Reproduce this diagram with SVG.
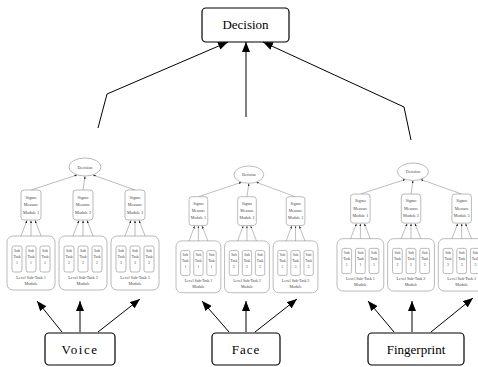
<svg xmlns="http://www.w3.org/2000/svg" width="478" height="367" viewBox="0 0 478 367">
<style>
text{font-family:"Liberation Serif","Times New Roman",serif;text-anchor:middle;fill:#000}
.main rect{fill:#fff;stroke:#000;stroke-width:1.2}
.main text{font-size:13px}
.conn line,.conn polyline{stroke:#000;stroke-width:1;fill:none;marker-end:url(#big)}
.sub rect,.sub ellipse{fill:#fff;stroke:#8a8a8a;stroke-width:0.6}
.sub text{font-size:4.2px;fill:#444}
.sub .t{font-size:3.8px}
.sc line{stroke:#777;stroke-width:0.5;marker-end:url(#small)}
</style>
<defs>
<marker id="big" viewBox="0 0 10 8" refX="10" refY="4" markerWidth="10" markerHeight="8" markerUnits="userSpaceOnUse" orient="auto"><path d="M0,0L10,4L0,8z" fill="#000"/></marker>
<marker id="small" viewBox="0 0 10 8" refX="10" refY="4" markerWidth="2.6" markerHeight="2.2" markerUnits="userSpaceOnUse" orient="auto"><path d="M0,0L10,4L0,8z" fill="#222"/></marker>
</defs>
<rect width="478" height="367" fill="#fff"/>

<g class="main">
<g id="decision"><rect x="202" y="8" width="87" height="34" rx="4"/><text x="245.5" y="29">Decision</text></g>
<g id="voice"><rect x="45" y="333" width="70" height="32" rx="4"/><text x="80" y="353.5" letter-spacing="1.5">Voice</text></g>
<g id="face"><rect x="212" y="333" width="68" height="32" rx="4"/><text x="246" y="353.5" letter-spacing="1">Face</text></g>
<g id="fingerprint"><rect x="368" y="333" width="96" height="32" rx="4"/><text x="416" y="353.5">Fingerprint</text></g>
</g>

<g id="connectors" class="conn">
<polyline points="98,128 107,94 228,42"/>
<line x1="246" y1="117" x2="246" y2="42"/>
<polyline points="411,140 404,107 263,42"/>
<line x1="62" y1="332" x2="37" y2="301"/>
<line x1="80" y1="332" x2="80" y2="301"/>
<line x1="98" y1="332" x2="140" y2="299"/>
<line x1="229" y1="332" x2="202" y2="301"/>
<line x1="246" y1="332" x2="246" y2="301"/>
<line x1="255" y1="332" x2="297" y2="299"/>
<line x1="394" y1="332" x2="368" y2="301"/>
<line x1="412" y1="332" x2="412" y2="301"/>
<line x1="431" y1="332" x2="473" y2="298"/>
</g>

<!-- Voice sub-diagram -->
<g id="voice-system" class="sub" transform="translate(7,158)">
<g class="sc">
<line x1="24" y1="32" x2="70" y2="17"/><line x1="76" y1="32" x2="78" y2="18.2"/><line x1="128" y1="32" x2="86" y2="17"/>
<line x1="10" y1="88" x2="20" y2="62.5"/><line x1="24" y1="88" x2="24" y2="62.5"/><line x1="38" y1="88" x2="28" y2="62.5"/>
<line x1="62" y1="88" x2="72" y2="62.5"/><line x1="76" y1="88" x2="76" y2="62.5"/><line x1="90" y1="88" x2="80" y2="62.5"/>
<line x1="114" y1="88" x2="124" y2="62.5"/><line x1="128" y1="88" x2="128" y2="62.5"/><line x1="142" y1="88" x2="132" y2="62.5"/>
</g>
<g id="voice-dec"><ellipse cx="78" cy="9" rx="16" ry="9"/><text x="78" y="10.5">Decision</text></g>
<g id="voice-sig1"><rect x="14" y="32" width="20" height="30" rx="3"/><text x="24" y="40.5">Sigmo</text><text x="24" y="48">Measure</text><text x="24" y="55.5">Module 1</text></g>
<g id="voice-sig2"><rect x="66" y="32" width="20" height="30" rx="3"/><text x="76" y="40.5">Sigmo</text><text x="76" y="48">Measure</text><text x="76" y="55.5">Module 2</text></g>
<g id="voice-sig3"><rect x="118" y="32" width="20" height="30" rx="3"/><text x="128" y="40.5">Sigmo</text><text x="128" y="48">Measure</text><text x="128" y="55.5">Module 3</text></g>
<g id="voice-mod1"><rect x="0" y="78" width="48" height="54" rx="6"/><text x="24" y="120.5">Level Sub-Task 1</text><text x="24" y="127">Module</text></g>
<g id="voice-mod2"><rect x="52" y="78" width="48" height="54" rx="6"/><text x="76" y="120.5">Level Sub-Task 2</text><text x="76" y="127">Module</text></g>
<g id="voice-mod3"><rect x="104" y="78" width="48" height="54" rx="6"/><text x="128" y="120.5">Level Sub-Task 3</text><text x="128" y="127">Module</text></g>
<g id="voice-st11"><rect x="5" y="88" width="10" height="26" rx="2"/><text class="t" x="10" y="94">Sub</text><text class="t" x="10" y="100">Task</text><text class="t" x="10" y="106">1</text></g>
<g id="voice-st12"><rect x="19" y="88" width="10" height="26" rx="2"/><text class="t" x="24" y="94">Sub</text><text class="t" x="24" y="100">Task</text><text class="t" x="24" y="106">1</text></g>
<g id="voice-st13"><rect x="33" y="88" width="10" height="26" rx="2"/><text class="t" x="38" y="94">Sub</text><text class="t" x="38" y="100">Task</text><text class="t" x="38" y="106">1</text></g>
<g id="voice-st21"><rect x="57" y="88" width="10" height="26" rx="2"/><text class="t" x="62" y="94">Sub</text><text class="t" x="62" y="100">Task</text><text class="t" x="62" y="106">2</text></g>
<g id="voice-st22"><rect x="71" y="88" width="10" height="26" rx="2"/><text class="t" x="76" y="94">Sub</text><text class="t" x="76" y="100">Task</text><text class="t" x="76" y="106">2</text></g>
<g id="voice-st23"><rect x="85" y="88" width="10" height="26" rx="2"/><text class="t" x="90" y="94">Sub</text><text class="t" x="90" y="100">Task</text><text class="t" x="90" y="106">2</text></g>
<g id="voice-st31"><rect x="109" y="88" width="10" height="26" rx="2"/><text class="t" x="114" y="94">Sub</text><text class="t" x="114" y="100">Task</text><text class="t" x="114" y="106">3</text></g>
<g id="voice-st32"><rect x="123" y="88" width="10" height="26" rx="2"/><text class="t" x="128" y="94">Sub</text><text class="t" x="128" y="100">Task</text><text class="t" x="128" y="106">3</text></g>
<g id="voice-st33"><rect x="137" y="88" width="10" height="26" rx="2"/><text class="t" x="142" y="94">Sub</text><text class="t" x="142" y="100">Task</text><text class="t" x="142" y="106">3</text></g>
</g>

<!-- Face sub-diagram -->
<g id="face-system" class="sub" transform="translate(176,166) scale(0.934,0.96)">
<g class="sc">
<line x1="24" y1="32" x2="70" y2="17"/><line x1="76" y1="32" x2="78" y2="18.2"/><line x1="128" y1="32" x2="86" y2="17"/>
<line x1="10" y1="88" x2="20" y2="62.5"/><line x1="24" y1="88" x2="24" y2="62.5"/><line x1="38" y1="88" x2="28" y2="62.5"/>
<line x1="62" y1="88" x2="72" y2="62.5"/><line x1="76" y1="88" x2="76" y2="62.5"/><line x1="90" y1="88" x2="80" y2="62.5"/>
<line x1="114" y1="88" x2="124" y2="62.5"/><line x1="128" y1="88" x2="128" y2="62.5"/><line x1="142" y1="88" x2="132" y2="62.5"/>
</g>
<g id="face-dec"><ellipse cx="78" cy="9" rx="16" ry="9"/><text x="78" y="10.5">Decision</text></g>
<g id="face-sig1"><rect x="14" y="32" width="20" height="30" rx="3"/><text x="24" y="40.5">Sigmo</text><text x="24" y="48">Measure</text><text x="24" y="55.5">Module 1</text></g>
<g id="face-sig2"><rect x="66" y="32" width="20" height="30" rx="3"/><text x="76" y="40.5">Sigmo</text><text x="76" y="48">Measure</text><text x="76" y="55.5">Module 2</text></g>
<g id="face-sig3"><rect x="118" y="32" width="20" height="30" rx="3"/><text x="128" y="40.5">Sigmo</text><text x="128" y="48">Measure</text><text x="128" y="55.5">Module 3</text></g>
<g id="face-mod1"><rect x="0" y="78" width="48" height="54" rx="6"/><text x="24" y="120.5">Level Sub-Task 1</text><text x="24" y="127">Module</text></g>
<g id="face-mod2"><rect x="52" y="78" width="48" height="54" rx="6"/><text x="76" y="120.5">Level Sub-Task 2</text><text x="76" y="127">Module</text></g>
<g id="face-mod3"><rect x="104" y="78" width="48" height="54" rx="6"/><text x="128" y="120.5">Level Sub-Task 3</text><text x="128" y="127">Module</text></g>
<g id="face-st11"><rect x="5" y="88" width="10" height="26" rx="2"/><text class="t" x="10" y="94">Sub</text><text class="t" x="10" y="100">Task</text><text class="t" x="10" y="106">1</text></g>
<g id="face-st12"><rect x="19" y="88" width="10" height="26" rx="2"/><text class="t" x="24" y="94">Sub</text><text class="t" x="24" y="100">Task</text><text class="t" x="24" y="106">1</text></g>
<g id="face-st13"><rect x="33" y="88" width="10" height="26" rx="2"/><text class="t" x="38" y="94">Sub</text><text class="t" x="38" y="100">Task</text><text class="t" x="38" y="106">1</text></g>
<g id="face-st21"><rect x="57" y="88" width="10" height="26" rx="2"/><text class="t" x="62" y="94">Sub</text><text class="t" x="62" y="100">Task</text><text class="t" x="62" y="106">2</text></g>
<g id="face-st22"><rect x="71" y="88" width="10" height="26" rx="2"/><text class="t" x="76" y="94">Sub</text><text class="t" x="76" y="100">Task</text><text class="t" x="76" y="106">2</text></g>
<g id="face-st23"><rect x="85" y="88" width="10" height="26" rx="2"/><text class="t" x="90" y="94">Sub</text><text class="t" x="90" y="100">Task</text><text class="t" x="90" y="106">2</text></g>
<g id="face-st31"><rect x="109" y="88" width="10" height="26" rx="2"/><text class="t" x="114" y="94">Sub</text><text class="t" x="114" y="100">Task</text><text class="t" x="114" y="106">3</text></g>
<g id="face-st32"><rect x="123" y="88" width="10" height="26" rx="2"/><text class="t" x="128" y="94">Sub</text><text class="t" x="128" y="100">Task</text><text class="t" x="128" y="106">3</text></g>
<g id="face-st33"><rect x="137" y="88" width="10" height="26" rx="2"/><text class="t" x="142" y="94">Sub</text><text class="t" x="142" y="100">Task</text><text class="t" x="142" y="106">3</text></g>
</g>

<!-- Fingerprint sub-diagram -->
<g id="fingerprint-system" class="sub" transform="translate(337,163) scale(0.974,0.97)">
<g class="sc">
<line x1="24" y1="32" x2="70" y2="17"/><line x1="76" y1="32" x2="78" y2="18.2"/><line x1="128" y1="32" x2="86" y2="17"/>
<line x1="10" y1="88" x2="20" y2="62.5"/><line x1="24" y1="88" x2="24" y2="62.5"/><line x1="38" y1="88" x2="28" y2="62.5"/>
<line x1="62" y1="88" x2="72" y2="62.5"/><line x1="76" y1="88" x2="76" y2="62.5"/><line x1="90" y1="88" x2="80" y2="62.5"/>
<line x1="114" y1="88" x2="124" y2="62.5"/><line x1="128" y1="88" x2="128" y2="62.5"/><line x1="142" y1="88" x2="132" y2="62.5"/>
</g>
<g id="fingerprint-dec"><ellipse cx="78" cy="9" rx="16" ry="9"/><text x="78" y="10.5">Decision</text></g>
<g id="fingerprint-sig1"><rect x="14" y="32" width="20" height="30" rx="3"/><text x="24" y="40.5">Sigmo</text><text x="24" y="48">Measure</text><text x="24" y="55.5">Module 1</text></g>
<g id="fingerprint-sig2"><rect x="66" y="32" width="20" height="30" rx="3"/><text x="76" y="40.5">Sigmo</text><text x="76" y="48">Measure</text><text x="76" y="55.5">Module 2</text></g>
<g id="fingerprint-sig3"><rect x="118" y="32" width="20" height="30" rx="3"/><text x="128" y="40.5">Sigmo</text><text x="128" y="48">Measure</text><text x="128" y="55.5">Module 3</text></g>
<g id="fingerprint-mod1"><rect x="0" y="78" width="48" height="54" rx="6"/><text x="24" y="120.5">Level Sub-Task 1</text><text x="24" y="127">Module</text></g>
<g id="fingerprint-mod2"><rect x="52" y="78" width="48" height="54" rx="6"/><text x="76" y="120.5">Level Sub-Task 2</text><text x="76" y="127">Module</text></g>
<g id="fingerprint-mod3"><rect x="104" y="78" width="48" height="54" rx="6"/><text x="128" y="120.5">Level Sub-Task 3</text><text x="128" y="127">Module</text></g>
<g id="fingerprint-st11"><rect x="5" y="88" width="10" height="26" rx="2"/><text class="t" x="10" y="94">Sub</text><text class="t" x="10" y="100">Task</text><text class="t" x="10" y="106">1</text></g>
<g id="fingerprint-st12"><rect x="19" y="88" width="10" height="26" rx="2"/><text class="t" x="24" y="94">Sub</text><text class="t" x="24" y="100">Task</text><text class="t" x="24" y="106">1</text></g>
<g id="fingerprint-st13"><rect x="33" y="88" width="10" height="26" rx="2"/><text class="t" x="38" y="94">Sub</text><text class="t" x="38" y="100">Task</text><text class="t" x="38" y="106">1</text></g>
<g id="fingerprint-st21"><rect x="57" y="88" width="10" height="26" rx="2"/><text class="t" x="62" y="94">Sub</text><text class="t" x="62" y="100">Task</text><text class="t" x="62" y="106">2</text></g>
<g id="fingerprint-st22"><rect x="71" y="88" width="10" height="26" rx="2"/><text class="t" x="76" y="94">Sub</text><text class="t" x="76" y="100">Task</text><text class="t" x="76" y="106">2</text></g>
<g id="fingerprint-st23"><rect x="85" y="88" width="10" height="26" rx="2"/><text class="t" x="90" y="94">Sub</text><text class="t" x="90" y="100">Task</text><text class="t" x="90" y="106">2</text></g>
<g id="fingerprint-st31"><rect x="109" y="88" width="10" height="26" rx="2"/><text class="t" x="114" y="94">Sub</text><text class="t" x="114" y="100">Task</text><text class="t" x="114" y="106">3</text></g>
<g id="fingerprint-st32"><rect x="123" y="88" width="10" height="26" rx="2"/><text class="t" x="128" y="94">Sub</text><text class="t" x="128" y="100">Task</text><text class="t" x="128" y="106">3</text></g>
<g id="fingerprint-st33"><rect x="137" y="88" width="10" height="26" rx="2"/><text class="t" x="142" y="94">Sub</text><text class="t" x="142" y="100">Task</text><text class="t" x="142" y="106">3</text></g>
</g>
</svg>
